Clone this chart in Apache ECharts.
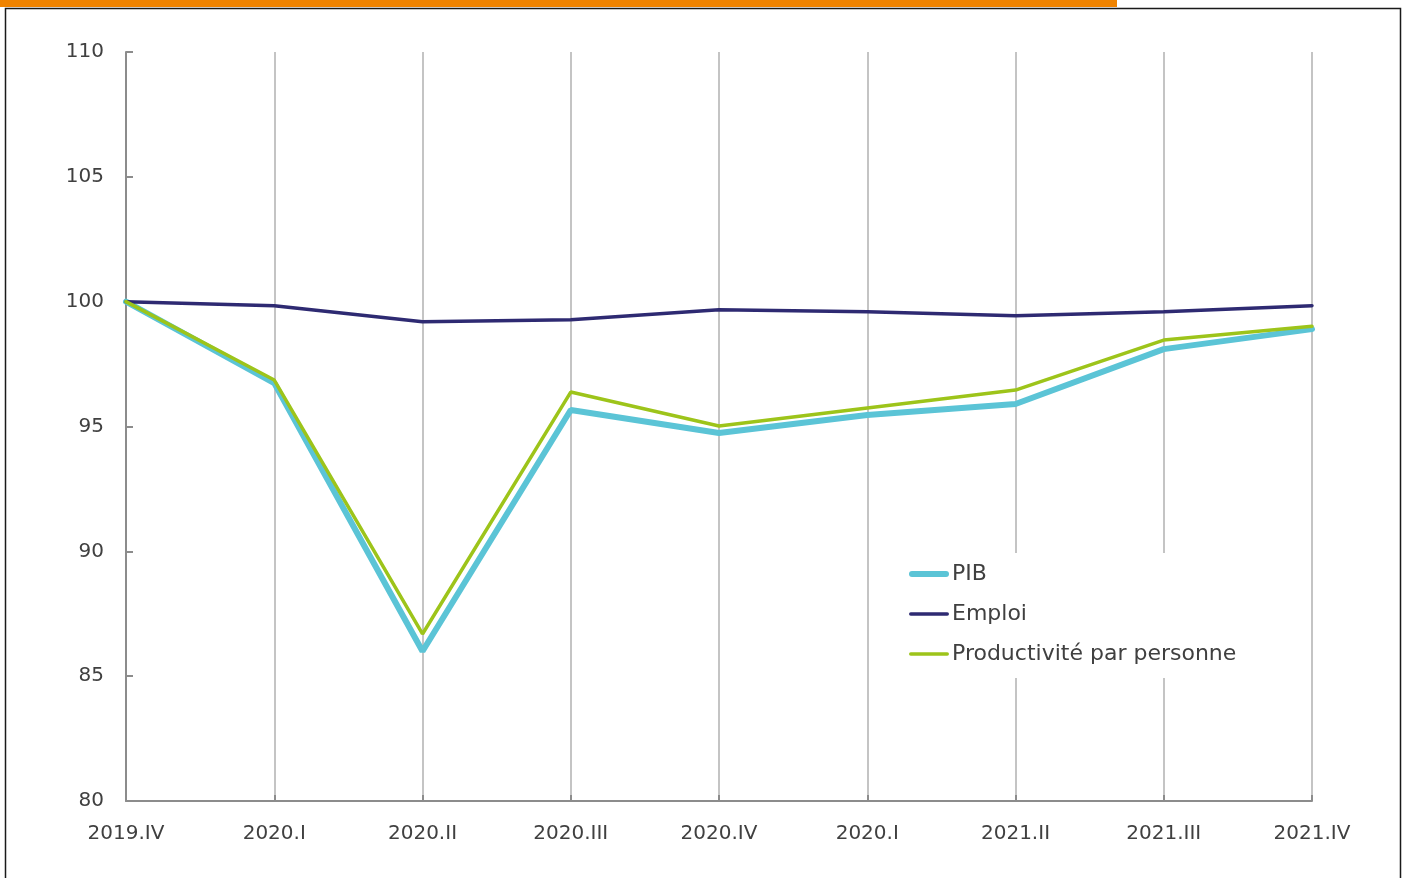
<!DOCTYPE html>
<html>
<head>
<meta charset="utf-8">
<script src="https://cdn.jsdelivr.net/npm/echarts@6/dist/echarts.min.js"></script>
<style>
  html, body { margin: 0; padding: 0; background: #fff; }
  #chart { width: 1405px; height: 878px; }
</style>
</head>
<body>
<div id="chart"></div>
<script>
var quarters = ['2019.IV', '2020.I', '2020.II', '2020.III', '2020.IV', '2020.I', '2021.II', '2021.III', '2021.IV'];
var pib = [100, 96.74, 86.0, 95.66, 94.74, 95.46, 95.9, 98.1, 98.9];
var emploi = [100, 99.84, 99.2, 99.28, 99.68, 99.6, 99.44, 99.6, 99.84];
var productivite = [100, 96.86, 86.69, 96.38, 95.02, 95.74, 96.46, 98.46, 99.02];

var fontName = 'DejaVu Sans';

// legend icons: plain rounded bars (no point marker)
var thickBar = 'path://M3,0 H37 A3,3 0 0 1 37,6 H3 A3,3 0 0 1 3,0 Z';
var thinBar = 'path://M1.75,0 H38.25 A1.75,1.75 0 0 1 38.25,3.5 H1.75 A1.75,1.75 0 0 1 1.75,0 Z';

function drawLinegraph(id) {
    var chart = echarts.init(document.getElementById(id));
    var option = {
        animation: false,
        textStyle: { fontFamily: fontName },
        graphic: [
            { type: 'rect', shape: { x: 0, y: 0, width: 1117, height: 7 }, style: { fill: '#f08300' }, z: 100 },
            { type: 'rect', shape: { x: 5.5, y: 8.5, width: 1395, height: 900 }, style: { fill: 'none', stroke: '#1a1a1a', lineWidth: 1.5 }, z: 100 }
        ],
        grid: { left: 126, right: 93, top: 52, bottom: 77 },
        legend: {
            orient: 'vertical',
            left: 905,
            top: 553,
            itemWidth: 40,
            itemHeight: 14,
            itemGap: 18,
            padding: [10, 8, 13, 4],
            backgroundColor: '#fff',
            textStyle: { fontFamily: fontName, fontSize: 22, color: '#404040', padding: [0, 0, 0, -2] },
            data: [
                { name: 'PIB', icon: thickBar },
                { name: 'Emploi', icon: thinBar },
                { name: 'Productivité par personne', icon: thinBar }
            ]
        },
        xAxis: {
            type: 'category',
            boundaryGap: false,
            data: quarters,
            axisLine: { lineStyle: { color: '#8c8c8c', width: 2 } },
            axisTick: { show: true, inside: true, length: 6, lineStyle: { color: '#8c8c8c', width: 2 } },
            axisLabel: { color: '#404040', fontSize: 20, margin: 23 },
            splitLine: { show: true, lineStyle: { color: '#c4c4c4', width: 2 } }
        },
        yAxis: {
            type: 'value',
            min: 80,
            max: 110,
            interval: 5,
            axisLine: { show: true, lineStyle: { color: '#8c8c8c', width: 2 } },
            axisTick: { show: true, inside: true, length: 7, lineStyle: { color: '#8c8c8c', width: 2 } },
            axisLabel: { color: '#404040', fontSize: 20, margin: 22 },
            splitLine: { show: false }
        },
        series: [
            {
                name: 'PIB', type: 'line', data: pib, symbol: 'none', z: 3,
                itemStyle: { color: '#5bc4d6' },
                lineStyle: { color: '#5bc4d6', width: 6, cap: 'round' }
            },
            {
                name: 'Emploi', type: 'line', data: emploi, symbol: 'none', z: 4,
                itemStyle: { color: '#2e2a72' },
                lineStyle: { color: '#2e2a72', width: 3.5, cap: 'round' }
            },
            {
                name: 'Productivité par personne', type: 'line', data: productivite, symbol: 'none', z: 5,
                itemStyle: { color: '#9dc41a' },
                lineStyle: { color: '#9dc41a', width: 3.5, cap: 'round' }
            }
        ]
    };
    chart.setOption(option);
    window.onresize = function(){
        chart.resize();
    }
}

drawLinegraph('chart');
</script>
</body>
</html>
